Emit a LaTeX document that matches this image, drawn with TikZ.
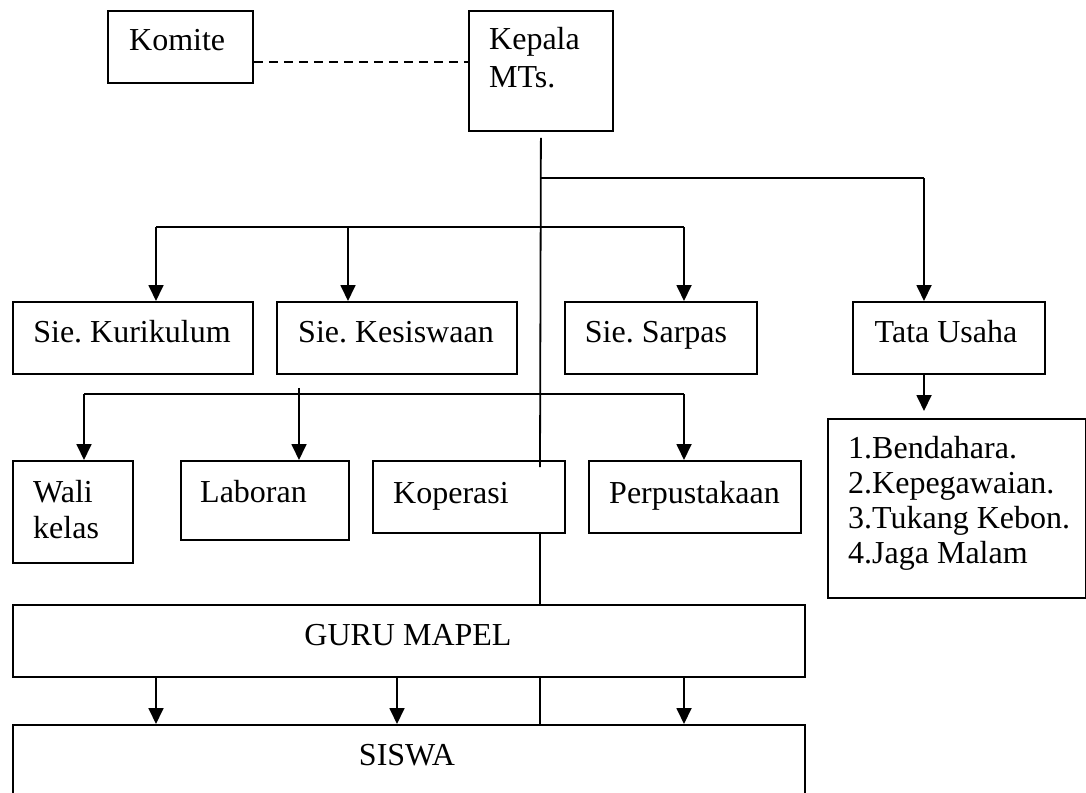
\documentclass[tikz,border=0pt]{standalone}
\usepackage{fontspec}
\setmainfont{Liberation Serif}
\usetikzlibrary{arrows.meta}
\frenchspacing
\begin{document}
\begin{tikzpicture}[x=1pt,y=-1pt,
  box/.style={draw, line width=1.8pt, rectangle, inner sep=0pt, anchor=north west},
  lbl/.style={inner sep=0pt, font=\fontsize{32}{35}\selectfont},
  ln/.style={line width=1.8pt},
  arr/.style={line width=1.8pt, -{Triangle[width=15pt,length=16pt]}}]
\clip (0,0) rectangle (1086,792);
\fill[white] (0,0) rectangle (1086,792);
% boxes
\node[box, minimum width=145pt, minimum height=72pt] (komite) at (107,10) {};
\node[box, minimum width=144pt, minimum height=120pt] (kepala) at (468,10) {};
\node[box, minimum width=240pt, minimum height=72pt] (kur) at (12,301) {};
\node[box, minimum width=240pt, minimum height=72pt] (kes) at (276,301) {};
\node[box, minimum width=192pt, minimum height=72pt] (sar) at (564,301) {};
\node[box, minimum width=192pt, minimum height=72pt] (tu) at (852,301) {};
\node[box, minimum width=258pt, minimum height=179pt] (list) at (827,418) {};
\node[box, minimum width=120pt, minimum height=102pt] (wali) at (12,460) {};
\node[box, minimum width=168pt, minimum height=79pt] (lab) at (180,460) {};
\node[box, minimum width=192pt, minimum height=72pt] (kop) at (372,460) {};
\node[box, minimum width=212pt, minimum height=72pt] (perp) at (588,460) {};
\node[box, minimum width=792pt, minimum height=72pt] (guru) at (12,604) {};
\node[box, minimum width=792pt, minimum height=90pt] (siswa) at (12,724) {};
% texts
\node[lbl, anchor=base west] (tkomite) at (129,51) {Komite};
\node[lbl, anchor=base west] (tkepala1) at (489,50) {Kepala};
\node[lbl, anchor=base west] (tkepala2) at (489,88) {MTs.};
\node[lbl, anchor=base] (tkur) at (132,342) {Sie. Kurikulum};
\node[lbl, anchor=base] (tkes) at (396,342) {Sie. Kesiswaan};
\node[lbl, anchor=base] (tsar) at (656,342) {Sie. Sarpas};
\node[lbl, anchor=base] (ttu) at (946,342) {Tata Usaha};
\node[lbl, anchor=base west] (tl1) at (848,458) {1.Bendahara.};
\node[lbl, anchor=base west] (tl2) at (848,493) {2.Kepegawaian.};
\node[lbl, anchor=base west] (tl3) at (848,528) {3.Tukang Kebon.};
\node[lbl, anchor=base west] (tl4) at (848,563) {4.Jaga Malam};
\node[lbl, anchor=base west] (twali1) at (33,502) {Wali};
\node[lbl, anchor=base west] (twali2) at (33,538) {kelas};
\node[lbl, anchor=base west] (tlab) at (200,502) {Laboran};
\node[lbl, anchor=base west] (tkop) at (393,503) {Koperasi};
\node[lbl, anchor=base west] (tperp) at (609,503) {Perpustakaan};
\node[lbl, anchor=base] (tguru) at (408,645) {GURU MAPEL};
\node[lbl, anchor=base] (tsiswa) at (407,765) {SISWA};
% junction coordinates
\coordinate (mend) at (540,467);
\coordinate (jtu) at (540,178);
\coordinate (tuin) at (924,178);
\coordinate (b1) at (156,227);
\coordinate (b2) at (348,227);
\coordinate (b3) at (684,227);
\coordinate (c1) at (84,394);
\coordinate (c2) at (299,394);
\coordinate (c3) at (684,394);
\coordinate (g2) at (397,0);
% connectors
\draw[line width=1.5pt, dash pattern=on 9pt off 6pt] ([yshift=-15pt]komite.east) -- ([yshift=-15pt]komite.east -| kepala.west);
\draw[ln] ([yshift=-6pt]kepala.south) -- (mend);
\draw[ln] (jtu) -- (tuin);
\draw[arr] (tuin) -- (tuin |- tu.north);
\draw[ln] (b1) -- (b3);
\draw[arr] (b1) -- (b1 |- kur.north);
\draw[arr] (b2) -- (b2 |- kes.north);
\draw[arr] (b3) -- (b3 |- sar.north);
\draw[arr] (tuin |- tu.south) -- ([yshift=7pt]tuin |- list.north);
\draw[ln] (c1) -- (c3);
\draw[arr] (c1) -- (c1 |- wali.north);
\draw[arr] ([yshift=-13pt]c2 |- kes.south) -- (c2 |- lab.north);
\draw[arr] (c3) -- (c3 |- perp.north);
\draw[ln] (mend |- kop.south) -- (mend |- guru.north);
\draw[arr] (b1 |- guru.south) -- (b1 |- siswa.north);
\draw[arr] (g2 |- guru.south) -- (g2 |- siswa.north);
\draw[ln] (mend |- guru.south) -- (mend |- siswa.north);
\draw[arr] (b3 |- guru.south) -- (b3 |- siswa.north);
\end{tikzpicture}
\end{document}
